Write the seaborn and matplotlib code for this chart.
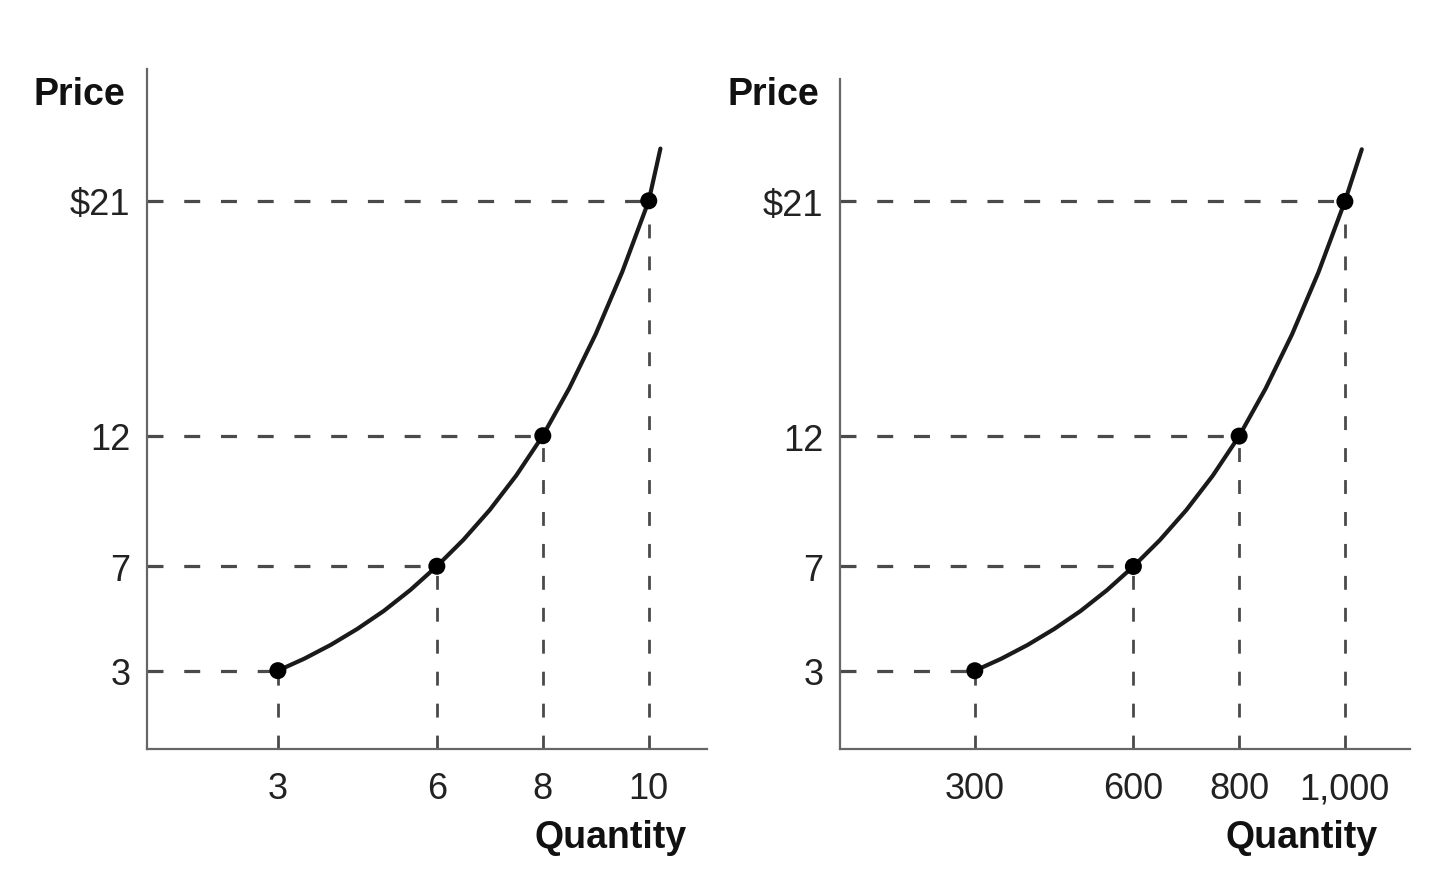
import seaborn as sns
import pandas as pd
import numpy as np
import matplotlib
matplotlib.use("Agg")
import matplotlib.pyplot as plt

# labelled points (same prices in both panels)
prices = [3, 7, 12, 21]
qty_left = [3, 6, 8, 10]
qty_right = [300, 600, 800, 1000]

# supply curve
curve_q_left = [3, 3.5, 4, 4.5, 5, 5.5, 6, 6.5, 7, 7.5, 8, 8.5, 9, 9.5, 10, 10.22]
curve_p_left = [3, 3.46, 3.99, 4.6, 5.29, 6.09, 7, 8.01, 9.16, 10.48, 12, 13.82, 15.9, 18.28, 21, 23.0]
curve_q_right = [300, 350, 400, 450, 500, 550, 600, 650, 700, 750, 800, 850, 900, 950, 1000, 1032]
curve_p_right = [3, 3.46, 3.99, 4.6, 5.29, 6.09, 7, 8.01, 9.16, 10.48, 12, 13.82, 15.9, 18.28, 21, 23.0]

ytick_labels = ["3", "7", "12", r"\$21"]
xtick_labels_left = ["3", "6", "8", "10"]
xtick_labels_right = ["300", "600", "800", "1,000"]

sns.set_style("white")
plt.rcParams["font.family"] = ["Liberation Sans", "DejaVu Sans"]

fig = plt.figure(figsize=(14.4, 8.87), dpi=100)
ax1 = fig.add_axes([0.1021, 0.1545, 0.3889, 0.7666])
ax2 = fig.add_axes([0.5833, 0.1545, 0.3958, 0.7554])

dash_col = "#4a4a4a"
panels = [
    (ax1, qty_left, curve_q_left, curve_p_left, xtick_labels_left, (0.53, 11.1), 26.05,
     (-0.12, 0.963), (0.964, -0.129)),
    (ax2, qty_right, curve_q_right, curve_p_right, xtick_labels_right, (45, 1123), 25.7,
     (-0.1175, 0.978), (0.944, -0.131)),
]

for ax, qs, cq, cp, xlabels, xlim, ytop, price_pos, qty_pos in panels:
    ax.set_xlim(*xlim)
    ax.set_ylim(0, ytop)

    # guide lines
    for q, p in zip(qs, prices):
        ax.plot([xlim[0], q], [p, p], color=dash_col, lw=2.3, dashes=(5, 6.5), zorder=1)
        ax.plot([q, q], [0, p], color=dash_col, lw=2.0, dashes=(5, 6.5), zorder=1)

    df = pd.DataFrame({"q": cq, "p": cp})
    sns.lineplot(data=df, x="q", y="p", ax=ax, sort=False, color="#1a1a1a", lw=3.0, zorder=3)
    pts = pd.DataFrame({"q": qs, "p": prices})
    sns.scatterplot(data=pts, x="q", y="p", ax=ax, color="black", s=150, edgecolor="none", zorder=4)

    ax.set_xticks(qs)
    ax.set_xticklabels(xlabels)
    ax.set_yticks(prices)
    ax.set_yticklabels(ytick_labels)
    ax.tick_params(axis="both", length=0, labelsize=26, colors="#222222")
    ax.tick_params(axis="x", pad=16)
    ax.tick_params(axis="y", pad=12)
    ax.set_xlabel("")
    ax.set_ylabel("")

    for side in ["top", "right"]:
        ax.spines[side].set_visible(False)
    for side in ["left", "bottom"]:
        ax.spines[side].set_color("#666666")
        ax.spines[side].set_linewidth(1.6)

    ax.text(price_pos[0], price_pos[1], "Price", transform=ax.transAxes,
            ha="center", va="center", fontsize=27, fontweight="bold", color="#111111")
    ax.text(qty_pos[0], qty_pos[1], "Quantity", transform=ax.transAxes,
            ha="right", va="center", fontsize=27, fontweight="bold", color="#111111",
            clip_on=False)

fig.savefig("out.png", dpi=100)
